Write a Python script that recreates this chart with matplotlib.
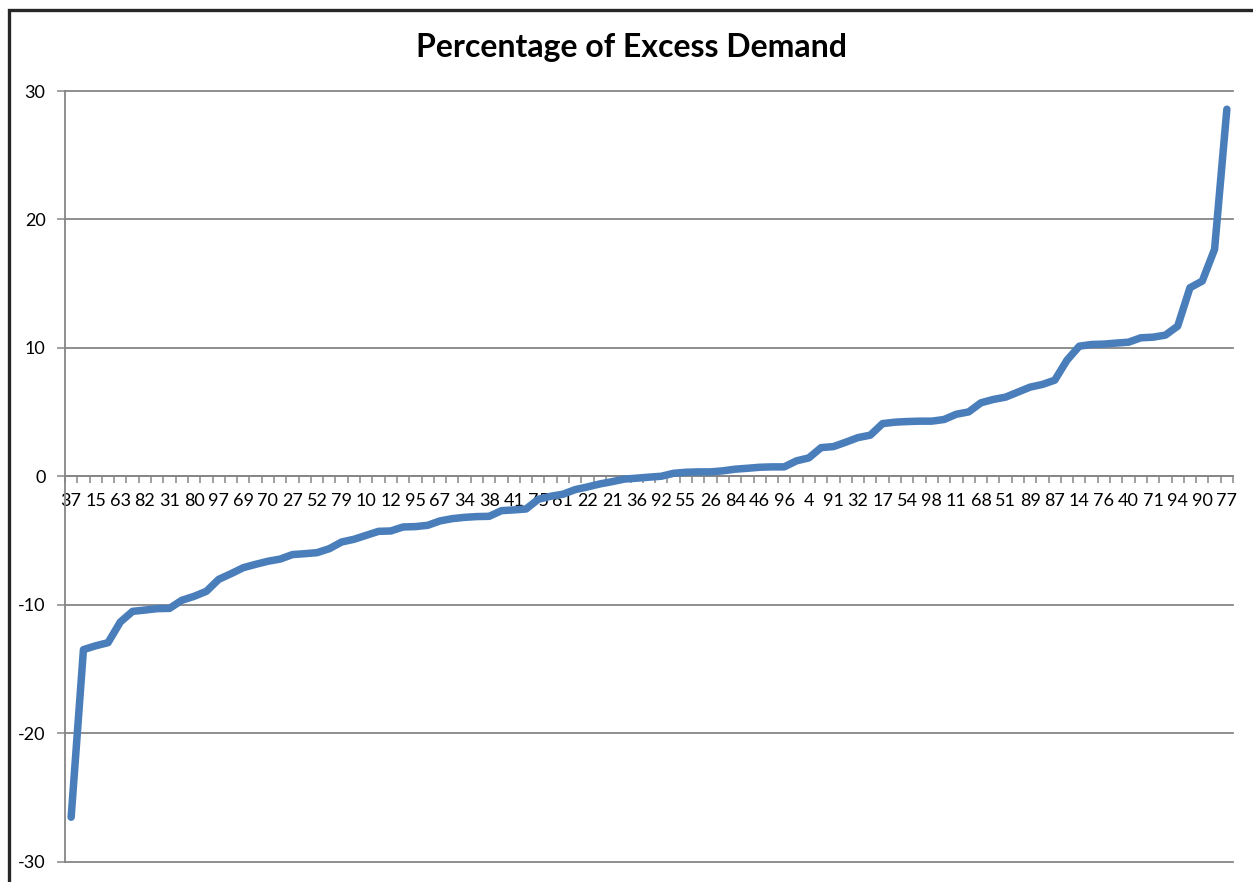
import numpy as np
import matplotlib
matplotlib.use('Agg')
import matplotlib.pyplot as plt
from matplotlib.patches import Rectangle

# Values (sorted excess demand, %)
excess = [-26.55, -13.50, -13.20, -12.96, -11.35, -10.52, -10.42, -10.31, -10.29, -9.66,
          -9.35, -8.96, -8.03, -7.59, -7.12, -6.86, -6.62, -6.45, -6.10, -6.03,
          -5.95, -5.64, -5.12, -4.91, -4.60, -4.29, -4.26, -3.95, -3.92, -3.82,
          -3.48, -3.30, -3.20, -3.14, -3.12, -2.68, -2.62, -2.55, -1.79, -1.56,
          -1.40, -1.04, -0.83, -0.60, -0.42, -0.22, -0.15, -0.07, 0.00, 0.23,
          0.31, 0.34, 0.34, 0.42, 0.55, 0.62, 0.70, 0.73, 0.73, 1.20,
          1.43, 2.23, 2.31, 2.65, 3.01, 3.20, 4.10, 4.21, 4.26, 4.29,
          4.29, 4.42, 4.83, 5.01, 5.72, 5.98, 6.16, 6.55, 6.94, 7.15,
          7.48, 9.04, 10.13, 10.26, 10.29, 10.37, 10.44, 10.78, 10.83, 10.99,
          11.69, 14.68, 15.20, 17.67, 28.58]
# every other category id is shown on the axis
shown_labels = ['37', '15', '63', '82', '31', '80', '97', '69', '70', '27', '52', '79',
                '10', '12', '95', '67', '34', '38', '41', '75', '61', '22', '21', '36',
                '92', '55', '26', '84', '46', '96', '4', '91', '32', '17', '54', '98',
                '11', '68', '51', '89', '87', '14', '76', '40', '71', '94', '90', '77']
y_ticks = [-30, -20, -10, 0, 10, 20, 30]
title = 'Percentage of Excess Demand'

plt.rcParams['font.family'] = ['Lato', 'DejaVu Sans']

W, H = 1253, 882
fig = plt.figure(figsize=(W/100, H/100), dpi=100, facecolor='w')
ax = fig.add_axes([65/W, 1-861.5/H, (1233-65)/W, (861.5-91)/H])

n = len(excess)
x = np.arange(n)
ax.plot(x, excess, color='#4A7EBB', lw=5.4, solid_capstyle='round', solid_joinstyle='round', zorder=3)

ax.set_xlim(-0.5, n-0.5)
ax.set_ylim(y_ticks[0], y_ticks[-1])

grid_col = '#868686'
ax.set_yticks(y_ticks)
ax.set_yticklabels([str(v) for v in y_ticks])
for v in y_ticks:
    ax.axhline(v, color=grid_col, lw=1.3, zorder=1, clip_on=False)

# category axis: tick marks between categories, labels on every 2nd category
ax.set_xticks(np.arange(n+1)-0.5)
ax.set_xticklabels([])
ax.set_xticks(np.arange(0, n, 2), minor=True)
ax.set_xticklabels(shown_labels, minor=True)
ax.tick_params(axis='x', which='major', direction='out', length=5, width=1.1, color=grid_col)
ax.tick_params(axis='x', which='minor', length=0, pad=12, labelsize=13, labelcolor='black')
ax.tick_params(axis='y', direction='out', length=6, width=1.1, color=grid_col, pad=8, labelsize=13)

ax.spines['bottom'].set_position(('data', 0))
ax.spines['bottom'].set_color(grid_col)
ax.spines['bottom'].set_linewidth(1.3)
ax.spines['left'].set_color(grid_col)
ax.spines['left'].set_linewidth(1.3)
ax.spines['top'].set_visible(False)
ax.spines['right'].set_visible(False)

fig.text(632/W, 1-47/H, title, ha='center', va='center', fontsize=23, fontweight='bold')

# chart area border (only top and left edges are inside the picture)
fig.add_artist(Rectangle((8.5/W, -0.1), 1.2, 1.1-9.5/H, transform=fig.transFigure,
                         fill=False, ec='#262626', lw=2.4))

fig.savefig('out.png', dpi=100, facecolor='w')
